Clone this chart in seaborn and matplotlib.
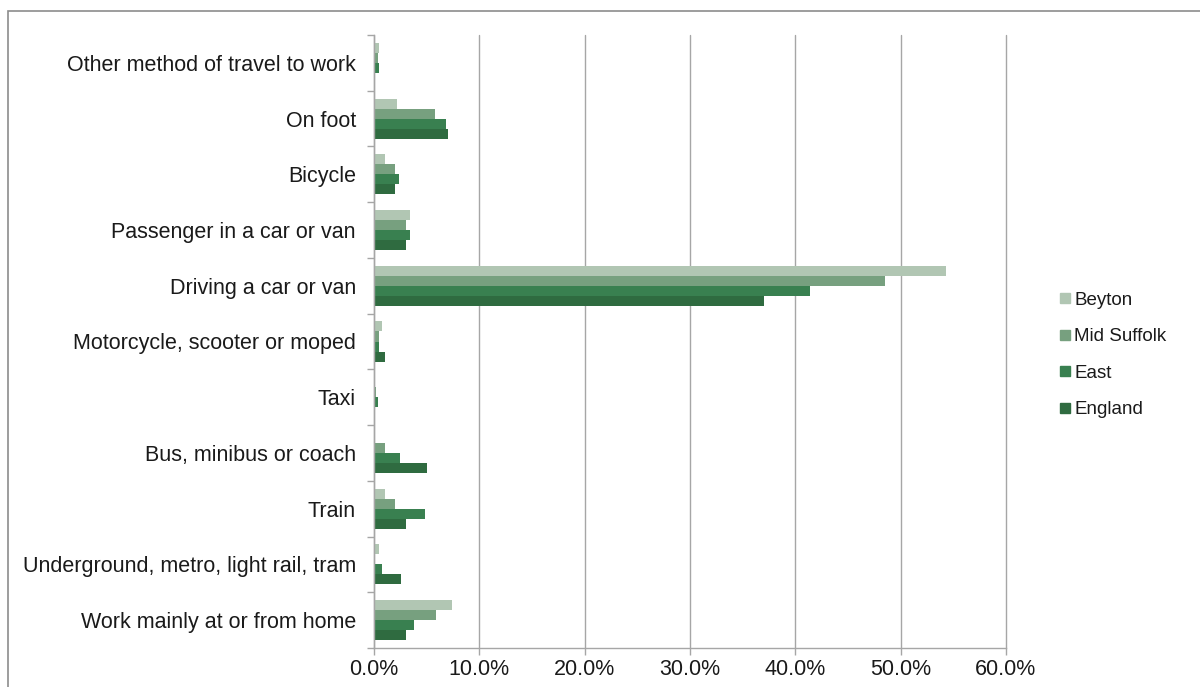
import matplotlib
matplotlib.use("Agg")
import matplotlib.pyplot as plt
from matplotlib.patches import Rectangle
from matplotlib.lines import Line2D
from matplotlib.ticker import FixedLocator, PercentFormatter
import seaborn as sns
import pandas as pd

# Method of travel to work, share of working residents (%)
categories = [
    "Other method of travel to work",
    "On foot",
    "Bicycle",
    "Passenger in a car or van",
    "Driving a car or van",
    "Motorcycle, scooter or moped",
    "Taxi",
    "Bus, minibus or coach",
    "Train",
    "Underground, metro, light rail, tram",
    "Work mainly at or from home",
]
areas = ["Beyton", "Mid Suffolk", "East", "England"]

beyton = [0.45, 2.2, 1.0, 3.4, 54.3, 0.8, 0.0, 0.0, 1.0, 0.45, 7.4]
mid_suffolk = [0.35, 5.8, 2.0, 3.0, 48.5, 0.5, 0.2, 1.0, 2.0, 0.1, 5.9]
east = [0.45, 6.8, 2.4, 3.4, 41.4, 0.5, 0.35, 2.5, 4.8, 0.8, 3.8]
england = [0.0, 7.0, 2.0, 3.0, 37.0, 1.0, 0.0, 5.0, 3.0, 2.6, 3.0]

palette = ["#b1c6b3", "#77a07f", "#398050", "#2f6b40"]

series = [beyton, mid_suffolk, east, england]
df = pd.DataFrame({
    "Method": [c for _ in areas for c in categories],
    "Area": [a for a in areas for _ in categories],
    "Share": [v for s in series for v in s],
})

sns.set_theme(style="white")
plt.rcParams["font.family"] = ["Liberation Sans", "DejaVu Sans"]

fig = plt.figure(figsize=(12, 6.87), dpi=100)
ax = fig.add_axes([374 / 1200, 1 - 648 / 687, (1006 - 374) / 1200, (648 - 35) / 687])

sns.barplot(
    data=df, y="Method", x="Share", hue="Area",
    order=categories, hue_order=areas, palette=palette,
    orient="h", width=0.72, gap=0, saturation=1, ax=ax,
    linewidth=0, legend=False,
)

grid_col = "#a6a6a6"
text_col = "#1a1a1a"
ax.set_xlim(0, 60)
ax.set_ylim(len(categories) - 0.5, -0.5)
ax.xaxis.set_major_locator(FixedLocator([0, 10, 20, 30, 40, 50, 60]))
ax.xaxis.set_major_formatter(PercentFormatter(decimals=1))
ax.grid(axis="x", color=grid_col, linewidth=1)
for gl in ax.get_xgridlines():
    gl.set_clip_on(False)
ax.set_axisbelow(True)
ax.set_xlabel("")
ax.set_ylabel("")

for side in ["top", "right"]:
    ax.spines[side].set_visible(False)
for side in ["left", "bottom"]:
    ax.spines[side].set_color(grid_col)
    ax.spines[side].set_linewidth(1)

ax.yaxis.set_minor_locator(FixedLocator([i - 0.5 for i in range(len(categories) + 1)]))
ax.tick_params(axis="y", which="major", length=0, pad=13, labelsize=15.5, labelcolor=text_col)
ax.tick_params(axis="y", which="minor", length=5, width=1, color=grid_col, direction="out", left=True)
ax.tick_params(axis="x", which="major", length=5, width=1, color=grid_col, direction="out",
               bottom=True, pad=3, labelsize=15.5, labelcolor=text_col)

handles = [Line2D([0], [0], marker="s", linestyle="none", markersize=7.5,
                  markerfacecolor=c, markeredgecolor=c) for c in palette]
leg = fig.legend(handles, areas, loc="center left", bbox_to_anchor=(1049 / 1200, 1 - 355 / 687),
                 frameon=False, fontsize=13.5, labelspacing=1.04, handlelength=0.7,
                 handletextpad=0.15, borderpad=0)
for t in leg.get_texts():
    t.set_color(text_col)

# chart frame
fig.add_artist(Rectangle((8 / 1200, -0.01), 1.0, 1 - 11 / 687 + 0.01, transform=fig.transFigure,
                         fill=False, edgecolor="#8c8c8c", linewidth=1.2))

fig.savefig("out.png", dpi=100, facecolor="white")
